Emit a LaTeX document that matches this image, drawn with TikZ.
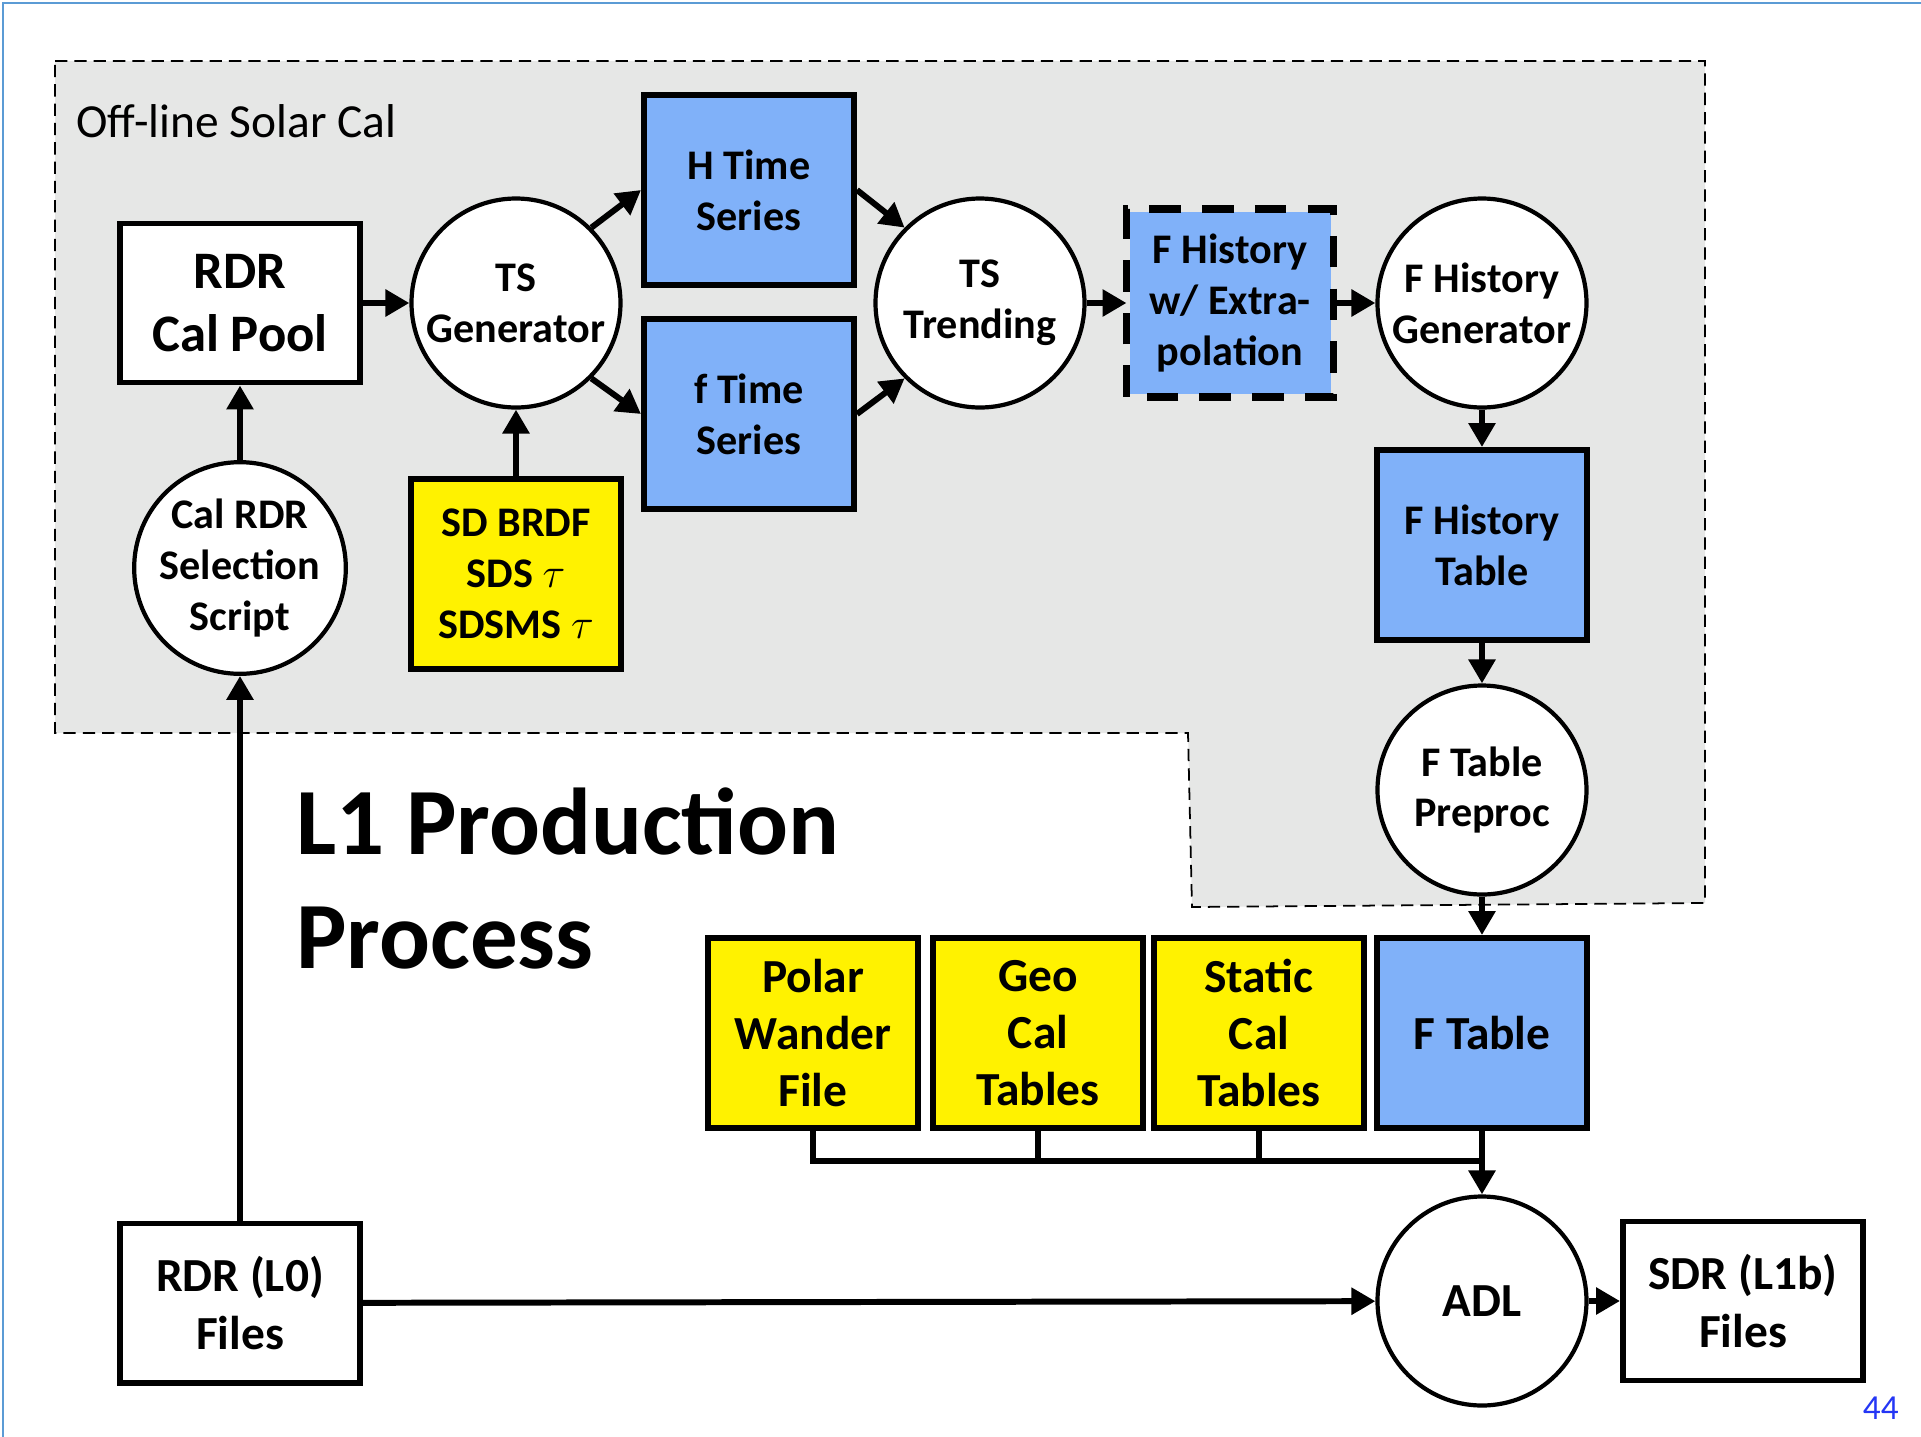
\documentclass[tikz,border=0pt]{standalone}
\usepackage{fontspec}
\setmainfont{Carlito}
\usetikzlibrary{arrows.meta}
\definecolor{calgray}{HTML}{E6E7E6}
\definecolor{calblue}{HTML}{80B1F9}
\definecolor{frameblue}{HTML}{5B9BD5}
\definecolor{pageblue}{HTML}{2436F5}
\newcommand{\smalltext}{\fontsize{12}{14.5}\selectfont\bfseries}
\newcommand{\bigtext}{\fontsize{13.5}{16.3}\selectfont\bfseries}

\begin{document}
\begin{tikzpicture}[
  >={Triangle[length=0.24cm,width=0.26cm]},
  proc/.style={circle,draw,line width=1.2pt,fill=white,minimum size=2.09cm,inner sep=0pt,align=center,font=\smalltext},
  datbox/.style={rectangle,draw,line width=1.7pt,minimum width=2.10cm,minimum height=1.90cm,inner sep=0pt,align=center,font=\smalltext},
  filebox/.style={rectangle,draw,line width=1.7pt,fill=white,minimum width=2.40cm,minimum height=1.59cm,inner sep=0pt,align=center,font=\bigtext},
  flow/.style={->,line width=1.7pt}
]
      \useasboundingbox (0,0) rectangle (19.21,-14.37);
      \draw[frameblue,line width=0.8pt] (0.03,-14.37) -- (0.03,-0.03) -- (19.21,-0.03);
      \draw[fill=calgray,line width=0.5pt,dash pattern=on 3.5pt off 2pt] (0.55,-0.61) -- (17.05,-0.61) -- (17.05,-9.03) -- (11.92,-9.07) -- (11.88,-7.33) -- (0.55,-7.33) -- cycle;
      \node[anchor=base west,font=\fontsize{13.5}{16}\selectfont] (0) at (0.64,-1.37) {Off-line Solar Cal};

      \node [filebox,font=\fontsize{15}{18}\selectfont\bfseries] (1) at (2.40,-3.03) {RDR\\Cal Pool};
      \node [proc,right of=1,xshift=1.76cm] (2) {TS\\Generator};
      \node [datbox,fill=calblue,right of=2,xshift=1.33cm,yshift=1.13cm] (3) {H Time\\Series};
      \node [datbox,fill=calblue,below of=3,yshift=-1.24cm] (4) {f Time\\Series};
      \node [proc,right of=2,xshift=3.64cm] (5) {TS\\Trending};
      \node [datbox,fill=calblue,draw=none,minimum width=2.01cm,minimum height=1.82cm,right of=5,xshift=1.5cm] (6) {F History\\w/ Extra-\\polation};
      \draw[line width=2.2pt,dash pattern=on 9pt off 6pt] (6.south west) rectangle (6.north east);
      \node [proc,right of=6,xshift=1.52cm] (7) {F History\\Generator};
      \node [datbox,fill=calblue,below of=7,yshift=-1.42cm] (8) {F History\\Table};
      \node [proc,below of=8,yshift=-1.45cm] (9) {F Table\\Preproc};
      \node [datbox,fill=calblue,font=\bigtext,below of=9,yshift=-1.43cm] (10) {F Table};
      \node [proc,font=\bigtext,below of=10,yshift=-1.68cm] (11) {ADL};
      \node [filebox,right of=11,xshift=1.61cm] (12) {SDR (L1b)\\Files};
      \node [filebox,below of=1,yshift=-9cm] (13) {RDR (L0)\\Files};
      \node [proc,below of=1,yshift=-1.65cm] (14) {Cal RDR\\Selection\\Script};
      \node [datbox,fill=yellow,below of=2,yshift=-1.71cm] (15) {SD BRDF\\SDS $\tau$\\SDSMS $\tau$};
      \node [datbox,fill=yellow,font=\bigtext,left of=10,xshift=-5.69cm] (16) {Polar\\Wander\\File};
      \node [datbox,fill=yellow,font=\bigtext,left of=10,xshift=-3.44cm] (17) {Geo\\Cal\\Tables};
      \node [datbox,fill=yellow,font=\bigtext,left of=10,xshift=-1.23cm] (18) {Static\\Cal\\Tables};
      \coordinate [below of=10,yshift=-0.28cm] (bus);

      \node [anchor=base west,align=left,font=\fontsize{27}{32.4}\selectfont\bfseries] (19) at (2.84,-9.68) {L1 Production\\Process};
      \node [anchor=base east,text=pageblue,font=\fontsize{10}{12}\selectfont] (20) at (19.11,-14.19) {44};

      \draw[flow] (1) -- (2);
      \draw[flow] (2.45) -- (3.west);
      \draw[flow] (2.-45) -- (4.west);
      \draw[flow] (3.east) -- (5.135);
      \draw[flow] (4.east) -- (5.-135);
      \draw[flow] (5) -- (6);
      \draw[flow] (6) -- (7);
      \draw[flow] (7) -- (8);
      \draw[flow] (8) -- (9);
      \draw[flow] (9) -- (10);
      \draw[line width=1.7pt] (16.south) |- (bus);
      \draw[line width=1.7pt] (17.south) -- (17.south |- bus);
      \draw[line width=1.7pt] (18.south) -- (18.south |- bus);
      \draw[flow] (10) -- (11);
      \draw[flow] (11) -- (12);
      \draw[flow] (13) -- (11);
      \draw[flow] (13) -- (14);
      \draw[flow] (14) -- (1);
      \draw[flow] (15) -- (2);
    \end{tikzpicture}
\end{document}
